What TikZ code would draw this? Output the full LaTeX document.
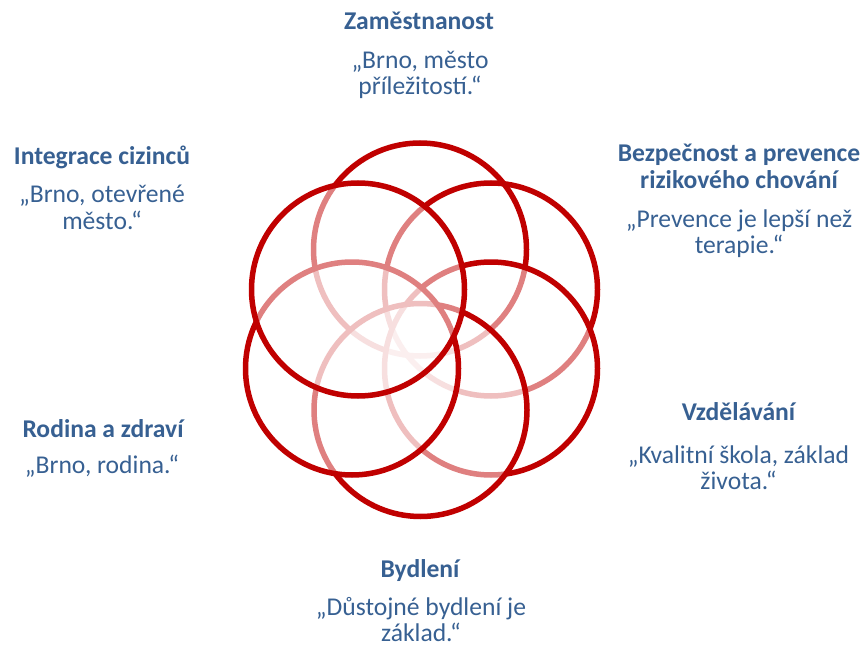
\documentclass[tikz,border=0pt]{standalone}
\usepackage{fontspec}
\setmainfont{Carlito}
\definecolor{ringred}{HTML}{C00000}
\definecolor{txtblue}{HTML}{376092}
\begin{document}
\begin{tikzpicture}[x=1pt,y=-1pt,
  ring/.style={circle,draw=ringred,line width=5.5pt,inner sep=0pt,minimum size=213pt},
  veil/.style={ring,fill=white,fill opacity=0.5,draw opacity=1},
  ttl/.style={font=\fontsize{25.6}{27}\selectfont\bfseries,text=txtblue,align=center,anchor=base,inner sep=0pt},
  qt/.style={font=\fontsize{25.6}{26}\selectfont,text=txtblue,align=center,anchor=base,inner sep=0pt}]
\useasboundingbox (0,0) rectangle (864,647);
% rings, drawn in stacking order
\node[ring] (cTop) at (420,249.5) {};
\node[ring] (cUR) at (491,289.5) {};
\node[veil] (cLR) at (491,368.5) {};
\node[veil] (cBot) at (420.5,410) {};
\node[veil] (cLL) at (352,368.5) {};
\node[veil] (cUL) at (358,289.5) {};
% labels (base = baseline of last line)
\node[ttl] (tZam) at (419,30) {Zaměstnanost};
\node[qt] (qZam) at (420,95) {„Brno, město\\příležitostí.“};
\node[ttl] (tInt) at (102,165) {Integrace cizinců};
\node[qt] (qInt) at (102,229) {„Brno, otevřené\\město.“};
\node[ttl] (tBez) at (739,189) {Bezpečnost a prevence\\rizikového chování};
\node[qt] (qBez) at (739,253) {„Prevence je lepší než\\terapie.“};
\node[ttl] (tRod) at (103,437) {Rodina a zdraví};
\node[qt] (qRod) at (102,473) {„Brno, rodina.“};
\node[ttl] (tVzd) at (738.5,420) {Vzdělávání};
\node[qt] (qVzd) at (738.5,489) {„Kvalitní škola, základ\\života.“};
\node[ttl] (tByd) at (420,577) {Bydlení};
\node[qt] (qByd) at (421,641) {„Důstojné bydlení je\\základ.“};
\end{tikzpicture}
\end{document}
